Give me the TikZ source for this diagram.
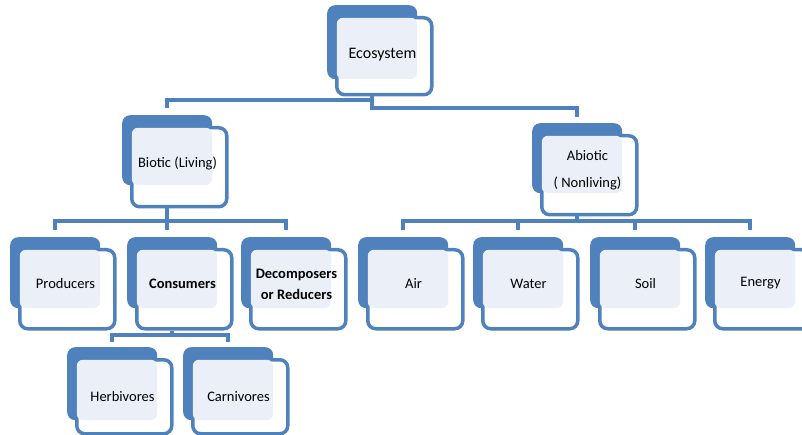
\documentclass[tikz,border=0pt]{standalone}
\usepackage{fontspec}
\setmainfont{Carlito}
\definecolor{ob}{HTML}{4F81BD}
\definecolor{lf}{HTML}{EBF0F8}
\tikzset{
  backbox/.style={fill=ob, rounded corners=8pt, inner sep=0pt, anchor=north west},
  frontbox/.style={fill=white, draw=ob, line width=3.5pt, rounded corners=8pt, inner sep=0pt, anchor=north west, minimum width=95pt},
  conn/.style={draw=ob, line width=3.5pt},
  lbl/.style={font=\fontsize{14.5}{17}\selectfont, align=center, inner sep=0pt},
}
% name, x, y, back height, front height, text dy, text
\newcommand\ecobox[7]{%
  \node[backbox, minimum width=90pt, minimum height=#4pt] (#1B) at (#2,#3) {};
  \node[frontbox, minimum height=#5pt] (#1F) at (#2+8,#3+11) {};
  \fill[lf, rounded corners=6pt] (#2+9.8,#3+12.8) rectangle (#2+90,#3+#4);
  \node[lbl] (#1) at (#2+55.5,#3+11+#5/2+#6) {#7};
}
\begin{document}
\begin{tikzpicture}[x=1pt,y=-1pt]
\useasboundingbox (0,0) rectangle (802,435);
% connector levels
\coordinate (e1) at (0,100);
\coordinate (e2) at (0,108);
\coordinate (b1) at (0,221);
\coordinate (c1) at (0,335);
\coordinate (d3) at (0,230);
\coordinate (d4) at (0,342);
% boxes level 1-2
\ecobox{eco}{327}{5}{74}{77}{0}{\fontsize{16}{19}\selectfont Ecosystem}
\ecobox{bio}{122}{115}{70}{79}{-2}{Biotic (Living)}
\ecobox{abio}{532}{123}{70}{79}{-3}{Abiotic\\[10pt]( Nonliving)}
% level 3
\ecobox{prod}{10}{237}{71}{79}{-4}{Producers}
\ecobox{cons}{127}{237}{71}{79}{-4}{\bfseries Consumers}
\ecobox{dec}{241}{237}{71}{79}{-3}{\bfseries Decomposers\\[4pt]\bfseries or Reducers}
\ecobox{air}{358}{237}{71}{79}{-4}{Air}
\ecobox{water}{473}{237}{71}{79}{-4}{Water}
\ecobox{soil}{590}{237}{71}{79}{-4}{Soil}
\ecobox{energy}{705}{237}{71}{79}{-4}{Energy}
% level 4
\ecobox{herb}{67}{347}{73}{74}{2}{Herbivores}
\ecobox{carn}{183}{347}{73}{74}{2}{Carnivores}
% connectors
\draw[conn] (ecoF.south -| ecoB.south) -- (ecoB.south |- e2) -- (abioB.north |- e2) -- ([yshift=6pt]abioB.north);
\draw[conn] (ecoB.south |- e1) -- (bioB.north |- e1) -- ([yshift=7pt]bioB.north);
\draw[conn] (bioF.south -| bioB.south) -- (bioB.south |- d3);
\draw[conn] (prodB.north |- d3) -- (prodB.north |- b1) -- (decB.north |- b1) -- (decB.north |- d3);
\draw[conn] (abioF.south -| abioB.south) -- (abioB.south |- b1);
\draw[conn] (airB.north |- d3) -- (airB.north |- b1) -- (energyB.north |- b1) -- (energyB.north |- d3);
\draw[conn] (waterB.north |- b1) -- (waterB.north |- d3);
\draw[conn] (soilB.north |- b1) -- (soilB.north |- d3);
\draw[conn] (consF.south -| consB.south) -- (consB.south |- c1);
\draw[conn] (herbB.north |- d4) -- (herbB.north |- c1) -- (carnB.north |- c1) -- (carnB.north |- d4);
\end{tikzpicture}
\end{document}
